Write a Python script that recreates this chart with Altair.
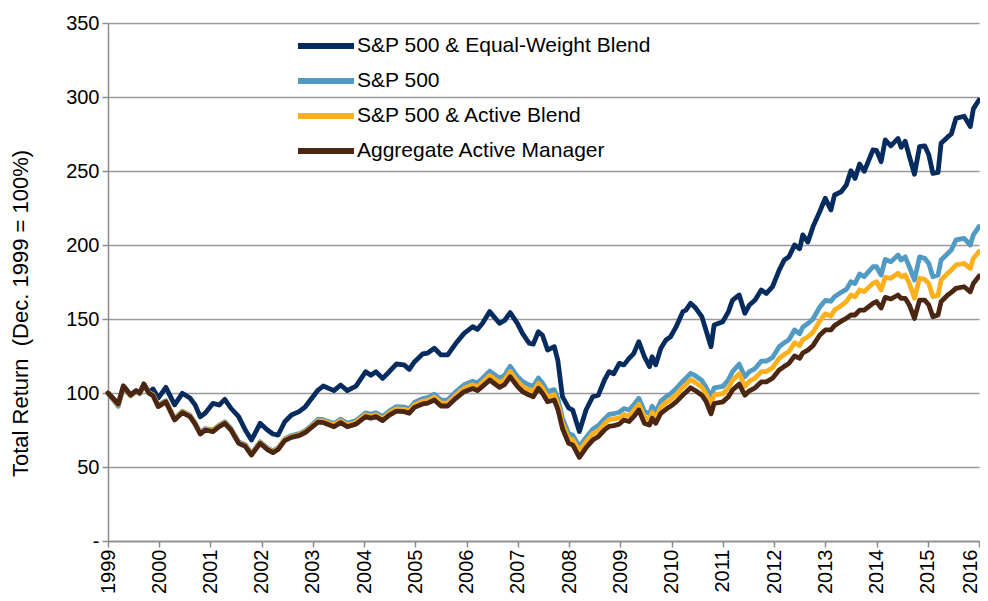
import altair as alt
import pandas as pd

dates = [
    1999.00, 1999.20, 1999.30, 1999.44, 1999.55, 1999.62, 1999.70, 1999.80, 1999.88, 1999.98,
    2000.13, 2000.30, 2000.45, 2000.60, 2000.70, 2000.80, 2000.90, 2001.05, 2001.17, 2001.28,
    2001.40, 2001.55, 2001.68, 2001.80, 2001.97, 2002.11, 2002.22, 2002.32, 2002.45, 2002.58,
    2002.73, 2002.85, 2002.95, 2003.10, 2003.20, 2003.41, 2003.54, 2003.67, 2003.84, 2004.03,
    2004.13, 2004.23, 2004.36, 2004.49, 2004.63, 2004.78, 2004.88, 2004.98, 2005.14, 2005.24,
    2005.37, 2005.50, 2005.63, 2005.79, 2005.95, 2006.12, 2006.21, 2006.31, 2006.45, 2006.64,
    2006.74, 2006.85, 2006.99, 2007.09, 2007.22, 2007.30, 2007.40, 2007.48, 2007.58, 2007.71,
    2007.78, 2007.87, 2007.99, 2008.07, 2008.20, 2008.33, 2008.46, 2008.57, 2008.69, 2008.78,
    2008.87, 2008.98, 2009.07, 2009.17, 2009.26, 2009.36, 2009.47, 2009.57, 2009.62, 2009.69,
    2009.79, 2009.89, 2009.98, 2010.09, 2010.22, 2010.28, 2010.37, 2010.47, 2010.59, 2010.67,
    2010.77, 2010.83, 2011.00, 2011.11, 2011.19, 2011.32, 2011.43, 2011.52, 2011.63, 2011.75,
    2011.85, 2011.97, 2012.10, 2012.20, 2012.29, 2012.40, 2012.50, 2012.56, 2012.66, 2012.76,
    2012.89, 2013.00, 2013.11, 2013.18, 2013.31, 2013.41, 2013.50, 2013.58, 2013.67, 2013.76,
    2013.93, 2014.00, 2014.09, 2014.17, 2014.28, 2014.42, 2014.48, 2014.56, 2014.64, 2014.74,
    2014.84, 2014.94, 2015.02, 2015.10, 2015.20, 2015.26, 2015.39, 2015.46, 2015.55, 2015.71,
    2015.83, 2015.89, 2016.00,
]

equal_weight_blend = [
    100, 92.5, 104.7, 98.6, 101.6, 100, 106, 100.5, 102.7, 96.6,
    103.8, 92, 99.8, 96.6, 92, 84, 86.5, 93, 91.9, 95.7,
    89.7, 84, 75, 68.2, 79.5, 75, 72.3, 71.6, 80.6, 85.1,
    87.4, 90.7, 95.3, 102, 104.7, 101.6, 105.4, 101.6, 104.7, 114.4,
    112, 114.4, 109.9, 114.4, 119.6, 119, 116, 121, 126.4, 127,
    130.2, 125.7, 125.7, 133.6, 140.3, 144.8, 143, 147.1, 155, 147.1,
    149, 154.3, 147.1, 140.3, 133.6, 133, 141.4, 139, 129, 131.3,
    122, 97.5, 90, 88.5, 73.9, 88.5, 97.5, 98.6, 108.8, 114.4,
    113, 120, 119, 123.4, 126.6, 134.7, 124.5, 117.8, 124.5, 119,
    130.2, 135.8, 138, 144.8, 155, 156, 160.6, 157.4, 151.6, 142.6,
    131.3, 146, 148.2, 155, 162.8, 166.2, 153.9, 159.5, 162.8, 169.6,
    167.3, 171.8, 183, 189.9, 192, 200, 197.5, 206.8, 202, 212.4,
    222.5, 231.6, 223.7, 233.8, 236, 240.5, 250.2, 245, 254.7, 249.8,
    264.2, 264, 256.3, 271, 267, 272, 266, 270, 260, 247.8,
    266.4, 267, 261, 248.4, 249, 268.7, 273, 275, 285.6, 287,
    280, 292, 298,
]

sp500 = [
    100, 91, 104, 98, 101, 99.5, 105.5, 100.3, 99, 92,
    94.8, 82.8, 87.7, 85, 80, 73.3, 76, 75, 78.3, 80.6,
    76.1, 67.1, 65.1, 59.2, 67.1, 62.9, 60.8, 62.9, 69, 71.3,
    72.5, 74.6, 77.5, 82.3, 82, 79.4, 82.3, 79.5, 81.4, 86.6,
    85.6, 86.7, 84, 87.8, 90.8, 90.5, 89.4, 93.6, 96.2, 96.8,
    99.2, 95.2, 95.3, 100.8, 105.6, 108, 106.8, 110, 114.8, 110,
    112, 118, 111.2, 107.8, 105.4, 104.4, 110.2, 106.8, 101, 102.3,
    96, 83, 72.5, 71.6, 63.7, 70, 75.5, 78, 82.5, 85.5,
    86, 87, 89.5, 88.5, 92, 96.5, 87.5, 86, 91, 87,
    94.5, 97.5, 99.5, 103, 108, 110, 113.3, 111.5, 108.5, 104,
    97, 103.5, 104.5, 109, 114.5, 119.5, 111, 114.5, 116.5, 121.5,
    121.5, 124, 131.3, 134, 136, 142.6, 140, 144.5, 147, 150,
    158, 162.5, 162, 165, 168, 170, 175.2, 174, 180.4, 178.6,
    185.3, 185.3, 179.7, 190.3, 188.7, 193.2, 189.8, 192, 185.3, 176.4,
    192, 191, 187.5, 178.6, 179.7, 189.9, 194.3, 196.6, 203.4, 204.5,
    200, 206.8, 212.4,
]

sp500_active_blend = [
    100, 92, 104.3, 98.3, 101.3, 99.8, 105.8, 100, 98.6, 91.4,
    94.4, 82.3, 87.2, 84.5, 79.5, 72.8, 75.5, 74.4, 77.7, 80,
    75.5, 66.5, 64.5, 58.6, 66.5, 62.3, 60.2, 62.3, 68.4, 70.6,
    71.8, 73.9, 76.8, 81.2, 81, 78.3, 81.2, 78.3, 80.2, 85.3,
    84.3, 85.3, 82.6, 86.4, 89.3, 89, 87.8, 92, 94.4, 95,
    97.2, 93.2, 93.3, 98.6, 103.2, 105.5, 104.2, 107.3, 111.8, 107,
    108.8, 114.5, 107.8, 104.5, 102, 101, 106.6, 103.3, 97.5, 98.8,
    92.5, 79.5, 69.5, 68.5, 61, 67, 72.5, 74.5, 79, 82,
    82.5, 83, 85.5, 84.5, 88, 92.5, 83.5, 82, 87, 83,
    90.5, 93.5, 95.5, 98.8, 103.8, 105.8, 109, 107, 104, 99.5,
    92.5, 98.5, 99.5, 103.5, 108.5, 113, 104.5, 108, 110, 114.5,
    114.5, 117, 123.5, 126, 128, 134, 132, 136, 138, 141,
    148.5, 153.5, 152, 156, 159, 161.8, 166.2, 165, 169.6, 168.5,
    174.1, 175.2, 169.6, 178.2, 177.5, 180.9, 178.6, 179.7, 174, 164,
    177.5, 176.8, 174, 165, 166, 176.4, 180.9, 183, 186.5, 187.5,
    184.2, 191, 195.5,
]

aggregate_active = [
    100, 92.5, 104.7, 98.6, 101.6, 100, 106, 99.8, 98.2, 90.8,
    94, 81.8, 86.7, 84, 79, 72.3, 75, 73.9, 77.2, 79.5,
    75, 66, 64, 58.1, 66, 61.8, 59.7, 61.8, 67.8, 70,
    71.2, 73.3, 76.1, 80.3, 80, 77.2, 80, 77.2, 79, 84,
    83, 84, 81.3, 85, 87.8, 87.4, 86.3, 90.3, 92.6, 93.2,
    95.3, 91.2, 91.2, 96.4, 100.9, 103, 101.6, 104.5, 108.8, 103.8,
    105.7, 111, 104.5, 101, 98.6, 97.5, 103.2, 99.8, 94.1, 95.3,
    89, 76, 66, 64.9, 56.5, 63, 68.2, 70.5, 75, 77.5,
    78, 79, 81.8, 80.7, 84, 88.5, 79.5, 78.4, 82.9, 79.5,
    86.3, 89, 91, 94, 98.6, 100.5, 103.5, 101.5, 98.5, 94.5,
    86, 92.9, 94, 97.5, 102, 106, 98.5, 101.5, 103.5, 107.5,
    107.5, 110, 115.5, 118, 120, 125, 123.5, 127, 129, 132,
    139, 142.6, 142.6, 145.5, 148.5, 150.4, 152.7, 152.7, 156, 156,
    160.6, 161.8, 157.4, 164.6, 163.5, 166.2, 164, 164, 159.5, 150.4,
    162.8, 162.8, 159.5, 151.6, 152.7, 161.7, 166.2, 168, 170.7, 171.8,
    168.4, 174, 179,
]

series_names = [
    "S&P 500 & Equal-Weight Blend",
    "S&P 500",
    "S&P 500 & Active Blend",
    "Aggregate Active Manager",
]
series_colors = ["#062b5e", "#519ac4", "#fdb01e", "#4b2613"]
year_ticks = list(range(1999, 2017))
value_ticks = list(range(0, 351, 50))
y_title = "Total Return\u00a0 (Dec. 1999 = 100%)"

series_values = [equal_weight_blend, sp500, sp500_active_blend, aggregate_active]
for vals in series_values:
    assert len(vals) == len(dates), (len(vals), len(dates))

rows = []
for name, vals in zip(series_names, series_values):
    for t, v in zip(dates, vals):
        rows.append({"t": t, "value": v, "series": name})
df = pd.DataFrame(rows)

FONT = "Liberation Sans"
GRAY = "#8c8c8c"

x_enc = alt.X(
    "t:Q",
    scale=alt.Scale(domain=[1999, 2016], nice=False, zero=False),
    axis=alt.Axis(
        values=year_ticks, format="d", labelAngle=270, labelFontSize=20,
        labelFont=FONT, labelColor="black", labelPadding=2, grid=False,
        tickSize=6, tickColor=GRAY, tickWidth=1.5, domainColor=GRAY,
        domainWidth=1.5, title=None, labelOverlap=False,
        labelOffset={"condition": {"test": "datum.value == 2016", "value": -9}, "value": 0},
    ),
)
y_enc = alt.Y(
    "value:Q",
    scale=alt.Scale(domain=[0, 350], nice=False),
    axis=alt.Axis(
        values=value_ticks,
        labelExpr="datum.value == 0 ? '-\u00a0\u00a0' : datum.label",
        labelFontSize=20, labelFont=FONT, labelColor="black", labelPadding=3,
        grid=True, gridColor="#999999", gridWidth=1.6, tickSize=6,
        tickColor=GRAY, tickWidth=1.5, domainColor=GRAY, domainWidth=1.5,
        title=y_title, titleFont=FONT, titleFontSize=22, titleFontWeight="normal",
        titleColor="black", titleAngle=270, titleX=-88, titleY=290,
        titleAlign="center", titleBaseline="middle",
    ),
)
color_enc = alt.Color(
    "series:N",
    scale=alt.Scale(domain=series_names, range=series_colors),
    legend=alt.Legend(
        title=None, orient="none", legendX=201, legendY=6,
        symbolType="M-2,0H2", symbolSize=784, symbolStrokeWidth=6,
        labelFontSize=21, labelFont=FONT, labelColor="black", labelOffset=14,
        labelLimit=0, rowPadding=6, padding=0, symbolLimit=0,
    ),
)

base = alt.Chart(df).mark_line(
    strokeWidth=4.8, strokeJoin="round", strokeCap="round"
).encode(x=x_enc, y=y_enc, color=color_enc)

layers = [base.transform_filter(alt.datum.series == n) for n in series_names]

chart = alt.layer(*layers).properties(
    width=871,
    height=518,
    padding={"left": 100, "top": 15, "right": 1, "bottom": 52},
    autosize=alt.AutoSizeParams(type="none"),
).configure_view(stroke=None)

chart.save("out.html", embed_options={"renderer": "svg", "actions": False})
